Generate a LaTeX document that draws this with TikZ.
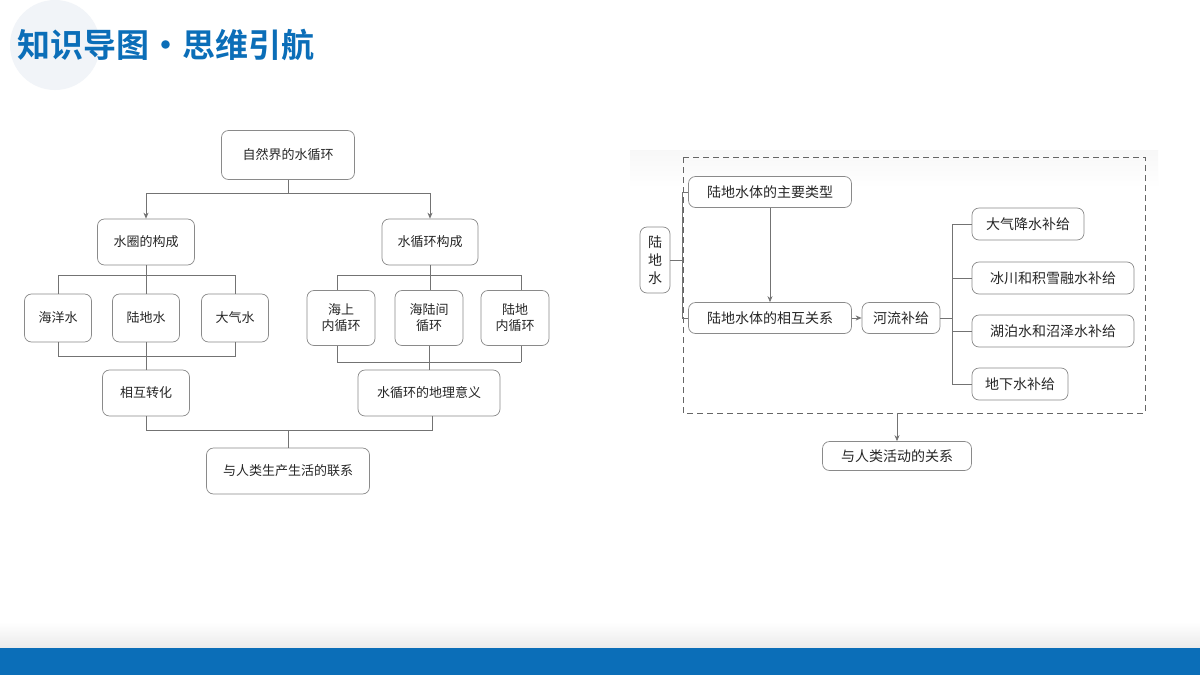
\documentclass[tikz,border=0pt]{standalone}
\usepackage{fontspec}
\setmainfont{Noto Sans CJK SC}
\newfontfamily\cjkb{Noto Sans CJK SC}[BoldFont={* Bold}]
\usetikzlibrary{arrows.meta,shapes.misc}
\definecolor{bblue}{HTML}{0B6EB8}
\definecolor{bx}{HTML}{8A8A8A}
\definecolor{circ}{HTML}{F1F4F8}
\begin{document}
\begin{tikzpicture}[x=1pt,y=-1pt,
  box/.style={draw=bx,line width=0.7pt,rounded corners=7pt,fill=white,inner sep=0pt,font=\fontsize{13}{16}\selectfont,text=black!85,align=center},
  ln/.style={draw=black!55,line width=0.7pt},
  ar/.style={ln,-{Stealth[length=6pt,width=5pt]}}]
\useasboundingbox (0,0) rectangle (1200,675);
\fill[white] (0,0) rectangle (1200,675);
\fill[circ] (55,45) circle (45);
\shade[top color=white,bottom color=black!8] (0,622) rectangle (1200,648);
\fill[bblue] (0,648) rectangle (1200,675);
\node[anchor=west,text=bblue,font=\cjkb\bfseries\fontsize{33}{36}\selectfont] (title) at (14,45) {知识导图·思维引航};
% left diagram
\node[box,minimum width=133,minimum height=49] (top) at (288,155) {自然界的水循环};
\node[box,minimum width=97,minimum height=46] (sq) at (146,242) {水圈的构成};
\node[box,minimum width=96,minimum height=46] (xh) at (430,242) {水循环构成};
\node[box,minimum width=67,minimum height=48] (hy) at (58,318) {海洋水};
\node[box,minimum width=67,minimum height=48] (ld) at (146,318) {陆地水};
\node[box,minimum width=67,minimum height=48] (dq) at (235,318) {大气水};
\node[box,minimum width=68,minimum height=55] (hs) at (341,318) {海上\\内循环};
\node[box,minimum width=68,minimum height=55] (hl) at (429,318) {海陆间\\循环};
\node[box,minimum width=68,minimum height=55] (ln) at (515,318) {陆地\\内循环};
\node[box,minimum width=87,minimum height=46] (zh) at (146,393) {相互转化};
\node[box,minimum width=142,minimum height=46] (yy) at (429,393) {水循环的地理意义};
\node[box,minimum width=163,minimum height=46] (lx) at (288,471) {与人类生产生活的联系};
\coordinate (t1) at (288,193);
\draw[ln] (top.south) -- (t1);
\draw[ar] (t1) -| (sq.north);
\draw[ar] (t1) -| (xh.north);
\coordinate (a1) at (58,275); \coordinate (a2) at (235,275);
\coordinate (a3) at (58,356); \coordinate (a4) at (235,356);
\draw[ln] (hy.north) -- (a1) -- (a2) -- (dq.north);
\draw[ln] (hy.south) -- (a3) -- (a4) -- (dq.south);
\draw[ln] (sq.south) -- (ld.north);
\draw[ln] (ld.south) -- (zh.north);
\coordinate (b1) at (337,275); \coordinate (b2) at (521,275);
\coordinate (b3) at (337,362); \coordinate (b4) at (521,362);
\draw[ln] (b1) -- (b2);
\draw[ln] (b1) -- (b1|-hs.north); \draw[ln] (b2) -- (b2|-ln.north);
\draw[ln] (b3) -- (b4);
\draw[ln] (b3) -- (b3|-hs.south); \draw[ln] (b4) -- (b4|-ln.south);
\draw[ln] (xh.south) -- (xh.south|-hl.north);
\draw[ln] (hl.south) -- (hl.south|-yy.north);
\coordinate (c1) at (146,430); \coordinate (c2) at (432,430);
\draw[ln] (zh.south) -- (c1) -- (c2) -- (c2|-yy.south);
\draw[ln] (lx.north) -- (lx.north|-c1);
% right diagram
\shade[top color=black!3,bottom color=white] (630,150) rectangle (1158,188);
\draw[black!60,dashed,line width=0.7pt,dash pattern=on 6pt off 4pt] (683,157) rectangle (1145,413);
\coordinate (dbot) at (897,413);
\node[box,minimum width=30,minimum height=66,font=\fontsize{14}{18}\selectfont] (ldw) at (655,260) {陆\\地\\水};
\node[box,minimum width=163,minimum height=31,font=\fontsize{14}{17}\selectfont] (lx1) at (770,192) {陆地水体的主要类型};
\node[box,minimum width=163,minimum height=31,font=\fontsize{14}{17}\selectfont] (lx2) at (770,318) {陆地水体的相互关系};
\node[box,minimum width=78,minimum height=31,font=\fontsize{14}{17}\selectfont] (hl2) at (901,318) {河流补给};
\node[box,minimum width=112,minimum height=32,font=\fontsize{14}{17}\selectfont] (r1) at (1028,224) {大气降水补给};
\node[box,minimum width=162,minimum height=32,font=\fontsize{14}{17}\selectfont] (r2) at (1053,278) {冰川和积雪融水补给};
\node[box,minimum width=162,minimum height=32,font=\fontsize{14}{17}\selectfont] (r3) at (1053,331) {湖泊水和沼泽水补给};
\node[box,minimum width=96,minimum height=32,font=\fontsize{14}{17}\selectfont] (r4) at (1020,384) {地下水补给};
\node[box,minimum width=149,minimum height=29,font=\fontsize{14}{17}\selectfont] (rel) at (897,456) {与人类活动的关系};
\coordinate (k) at (682,260);
\draw[ln] (ldw.east) -- (k);
\draw[ln] (k) |- (lx1.west);
\draw[ln] (k) |- (lx2.west);
\draw[ar] (lx1.south) -- (lx2.north);
\draw[ar] (lx2.east) -- (hl2.west);
\coordinate (m) at (952,318);
\draw[ln] (hl2.east) -- (m);
\draw[ln] (m) |- (r1.west);
\draw[ln] (m) |- (r2.west);
\draw[ln] (m) |- (r3.west);
\draw[ln] (m) |- (r4.west);
\draw[ar] (dbot) -- (rel.north);
\end{tikzpicture}
\end{document}
